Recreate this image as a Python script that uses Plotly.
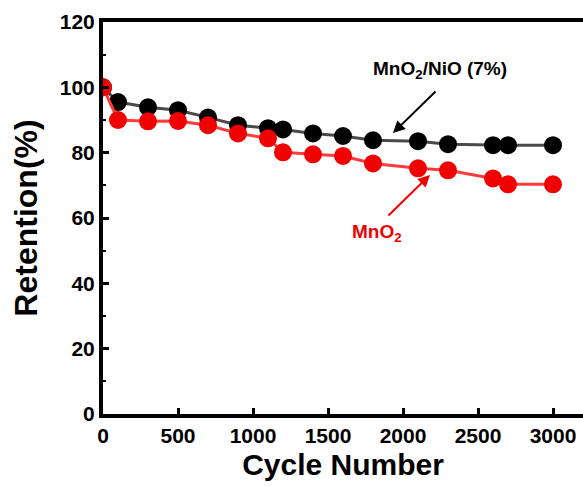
import plotly.graph_objects as go

cycles = [0, 100, 300, 500, 700, 900, 1100, 1200, 1400, 1600, 1800, 2100, 2300, 2600, 2700, 3000]
retention_nio = [100, 95.5, 93.9, 93.0, 90.8, 88.4, 87.5, 87.1, 85.9, 85.1, 83.8, 83.5, 82.6, 82.3, 82.3, 82.3]
retention_mno2 = [100, 90.0, 89.6, 89.7, 88.4, 85.9, 84.4, 80.1, 79.5, 79.0, 76.7, 75.2, 74.6, 72.1, 70.3, 70.3]

x_ticks = [0, 500, 1000, 1500, 2000, 2500, 3000]
y_ticks = [0, 20, 40, 60, 80, 100, 120]

FONT = "Arial, 'Liberation Sans', sans-serif"

fig = go.Figure()
fig.add_trace(go.Scatter(
    x=cycles, y=retention_nio, mode="lines+markers", name="MnO2/NiO (7%)",
    line=dict(color="#4a4a4a", width=3),
    marker=dict(color="#000000", size=18),
))
fig.add_trace(go.Scatter(
    x=cycles, y=retention_mno2, mode="lines+markers", name="MnO2",
    line=dict(color="#ff3b3b", width=3),
    marker=dict(color="#f00000", size=18),
))

# labels
fig.add_annotation(x=2247, y=105.3, text="<b>MnO<sub>2</sub>/NiO (7%)</b>", showarrow=False,
                   font=dict(family=FONT, size=19, color="#000000"))
fig.add_annotation(x=1933, y=86.0, ax=2227, ay=99.2, axref="x", ayref="y", text="",
                   showarrow=True, arrowhead=2, arrowsize=1.2, arrowwidth=2, arrowcolor="#000000")
fig.add_annotation(x=1827, y=55.4, text="<b>MnO<sub>2</sub></b>", showarrow=False,
                   font=dict(family=FONT, size=19, color="#f00000"))
fig.add_annotation(x=2180, y=73.2, ax=1893, ay=60.3, axref="x", ayref="y", text="",
                   showarrow=True, arrowhead=2, arrowsize=1.2, arrowwidth=2, arrowcolor="#f00000")

fig.update_layout(
    width=583, height=487,
    margin=dict(l=103, r=0, t=22, b=73),
    paper_bgcolor="white", plot_bgcolor="white",
    showlegend=False,
    font=dict(family=FONT, color="black"),
)
fig.update_xaxes(
    range=[0, 3200], tickvals=x_ticks, ticktext=[f"<b>{v}</b>" for v in x_ticks],
    showgrid=False, zeroline=False,
    showline=True, linecolor="black", linewidth=4, mirror=True,
    ticks="inside", ticklen=6, tickwidth=3, tickcolor="black",
    tickfont=dict(family=FONT, size=21, color="black"),
    title=dict(text="<b>Cycle Number</b>", font=dict(family=FONT, size=30, color="black"), standoff=9),
)
fig.update_yaxes(
    range=[0, 120], tickvals=y_ticks, ticktext=[f"<b>{v}</b>" for v in y_ticks],
    showgrid=False, zeroline=False,
    showline=True, linecolor="black", linewidth=4,
    ticks="inside", ticklen=6, tickwidth=3, tickcolor="black",
    minor=dict(ticks="inside", ticklen=3, tickwidth=2, dtick=10, tickcolor="black", showgrid=False),
    tickfont=dict(family=FONT, size=21, color="black"),
    title=dict(text="<b>Retention(%)</b>", font=dict(family=FONT, size=32, color="black"), standoff=14),
)

fig.write_html("out.html")
